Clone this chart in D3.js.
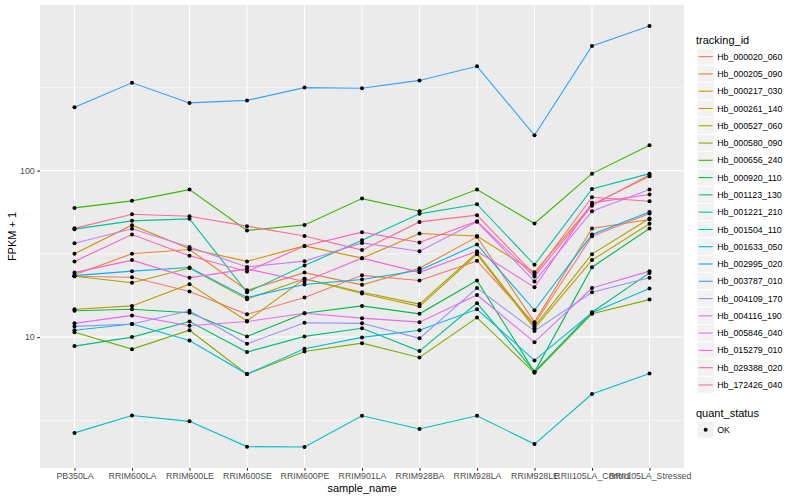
<!DOCTYPE html>
<html>
<head>
<meta charset="utf-8">
<script src="https://cdn.jsdelivr.net/npm/d3@7"></script>
<style>
  body { margin: 0; background: #fff; }
  text { font-family: "Liberation Sans", Arial, sans-serif; }
</style>
</head>
<body>
<div id="chart"></div>
<script>
// sample names on the x axis
const samples = ["PB350LA", "RRIM600LA", "RRIM600LE", "RRIM600SE", "RRIM600PE", "RRIM901LA",
                 "RRIM928BA", "RRIM928LA", "RRIM928LE", "RRII105LA_Control", "RRII105LA_Stressed"];

const trackingIds = ["Hb_000020_060", "Hb_000205_090", "Hb_000217_030", "Hb_000261_140", "Hb_000527_060",
                     "Hb_000580_090", "Hb_000656_240", "Hb_000920_110", "Hb_001123_130", "Hb_001221_210",
                     "Hb_001504_110", "Hb_001633_050", "Hb_002995_020", "Hb_003787_010", "Hb_004109_170",
                     "Hb_004116_190", "Hb_005846_040", "Hb_015279_010", "Hb_029388_020", "Hb_172426_040"];

// FPKM + 1, one array per tracking id, in sample order
const hb_000020_060 = [23.2, 22.9, 18.8, 13.7, 17.3, 23.5, 21.9, 28.7, 12.0, 40.4, 55.2];
const hb_000205_090 = [23.7, 31.7, 33.6, 19.1, 24.4, 20.6, 25.9, 40.0, 12.3, 44.9, 50.8];
const hb_000217_030 = [31.7, 47.0, 33.9, 28.5, 35.3, 29.8, 41.9, 40.5, 24.5, 62.5, 92.5];
const hb_000261_140 = [14.7, 15.4, 20.8, 12.5, 22.4, 18.3, 15.3, 31.4, 11.3, 29.0, 47.9];
const hb_000527_060 = [23.2, 21.2, 26.0, 16.9, 22.4, 18.6, 15.8, 32.1, 11.6, 31.5, 51.5];
const hb_000580_090 = [10.7, 8.47, 11.0, 6.0, 8.2, 9.2, 7.55, 13.1, 6.1, 13.8, 16.8];
const hb_000656_240 = [59.7, 65.8, 76.9, 43.7, 47.2, 67.9, 57.0, 76.9, 48.1, 95.9, 142];
const hb_000920_110 = [14.4, 14.7, 14.0, 10.1, 13.9, 15.4, 13.8, 21.9, 6.17, 26.3, 44.9];
const hb_001123_130 = [8.83, 10.0, 12.4, 8.13, 10.1, 11.3, 8.24, 16.0, 6.2, 14.1, 24.3];
const hb_001221_210 = [44.5, 49.9, 51.3, 18.6, 26.9, 38.2, 55.0, 62.8, 27.2, 77.6, 95.9];
const hb_001504_110 = [2.66, 3.38, 3.12, 2.2, 2.19, 3.37, 2.81, 3.37, 2.28, 4.55, 6.05];
const hb_001633_050 = [11.0, 12.0, 9.55, 6.0, 8.51, 9.96, 11.0, 14.7, 7.25, 14.0, 19.6];
const hb_002995_020 = [23.4, 24.9, 26.2, 17.3, 20.7, 22.2, 25.2, 36.0, 14.5, 41.3, 56.5];
const hb_003787_010 = [240, 337, 255, 264, 315, 312, 348, 423, 163, 560, 738];
const hb_004109_170 = [11.6, 12.0, 14.4, 9.12, 12.2, 12.1, 9.83, 19.7, 10.9, 18.6, 22.7];
const hb_004116_190 = [36.6, 44.7, 34.8, 26.4, 28.6, 36.8, 32.8, 49.3, 21.6, 57.0, 76.9];
const hb_005846_040 = [12.1, 13.5, 11.7, 12.4, 13.9, 13.0, 12.3, 17.9, 9.33, 19.7, 24.9];
const hb_015279_010 = [24.4, 29.0, 22.7, 25.7, 21.6, 29.8, 24.5, 32.8, 19.9, 64.0, 71.8];
const hb_029388_020 = [28.5, 41.3, 30.8, 24.8, 35.3, 42.7, 37.0, 49.7, 23.1, 61.6, 94.3];
const hb_172426_040 = [45.0, 54.7, 53.2, 46.4, 40.5, 33.3, 49.2, 54.0, 23.7, 69.2, 65.5];

const quantStatus = ["OK"];

const seriesValues = [hb_000020_060, hb_000205_090, hb_000217_030, hb_000261_140, hb_000527_060,
                      hb_000580_090, hb_000656_240, hb_000920_110, hb_001123_130, hb_001221_210,
                      hb_001504_110, hb_001633_050, hb_002995_020, hb_003787_010, hb_004109_170,
                      hb_004116_190, hb_005846_040, hb_015279_010, hb_029388_020, hb_172426_040];

const series = trackingIds.map((id, i) => ({
    id: id,
    values: samples.map((s, j) => ({sample: s, value: seriesValues[i][j]}))
}));

const width = 800, height = 500;
const panel = {left: 40, right: 684, top: 5, bottom: 468};

const svg = d3.select("#chart").append("svg")
    .attr("width", width).attr("height", height);

// ggplot hue palette for 20 levels
const color = d3.scaleOrdinal()
    .domain(trackingIds)
    .range(["#F8766D", "#EA8331", "#D89000", "#C09B00", "#A3A500", "#7CAE00", "#39B600", "#00BB4E",
            "#00BF7D", "#00C1A3", "#00BFC4", "#00BAE0", "#00B0F6", "#35A2FF", "#9590FF", "#C77CFF",
            "#E76BF3", "#FA62DB", "#FF62BC", "#FF6C91"]);

const x = d3.scalePoint()
    .domain(samples)
    .range([panel.left, panel.right])
    .padding(0.6);

// log10 scale with 5% expansion like ggplot
const allVals = seriesValues.flat();
const lo = Math.log10(d3.min(allVals)), hi = Math.log10(d3.max(allVals));
const pad = (hi - lo) * 0.05;
const y = d3.scaleLog()
    .domain([Math.pow(10, lo - pad), Math.pow(10, hi + pad)])
    .range([panel.bottom, panel.top]);

// panel background
svg.append("rect")
    .attr("x", panel.left).attr("y", panel.top)
    .attr("width", panel.right - panel.left).attr("height", panel.bottom - panel.top)
    .style("fill", "#EBEBEB");

const yMajor = [1, 10, 100, 1000].filter(v => v >= y.domain()[0] && v <= y.domain()[1]);
const yMinor = [Math.pow(10, 0.5), Math.pow(10, 1.5), Math.pow(10, 2.5)]
    .filter(v => v >= y.domain()[0] && v <= y.domain()[1]);

const grid = svg.append("g");
grid.selectAll(".minor").data(yMinor)
    .enter().append("line")
    .attr("x1", panel.left).attr("x2", panel.right)
    .attr("y1", d => y(d)).attr("y2", d => y(d))
    .style("stroke", "#fff").style("stroke-width", 0.55);
grid.selectAll(".major").data(yMajor)
    .enter().append("line")
    .attr("x1", panel.left).attr("x2", panel.right)
    .attr("y1", d => y(d)).attr("y2", d => y(d))
    .style("stroke", "#fff").style("stroke-width", 1.1);
grid.selectAll(".vmajor").data(samples)
    .enter().append("line")
    .attr("x1", d => x(d)).attr("x2", d => x(d))
    .attr("y1", panel.top).attr("y2", panel.bottom)
    .style("stroke", "#fff").style("stroke-width", 1.1);

// lines
const line = d3.line()
    .x(d => x(d.sample))
    .y(d => y(d.value));

svg.append("g").selectAll("path")
    .data(series)
    .enter().append("path")
    .attr("d", d => line(d.values))
    .style("fill", "none")
    .style("stroke", d => color(d.id))
    .style("stroke-width", 1.1);

// points
svg.append("g").selectAll("circle")
    .data(series.flatMap(d => d.values))
    .enter().append("circle")
    .attr("cx", d => x(d.sample))
    .attr("cy", d => y(d.value))
    .attr("r", 2)
    .style("fill", "#000");

// axes
const xAxis = svg.append("g")
    .attr("transform", "translate(0," + panel.bottom + ")")
    .call(d3.axisBottom(x).tickSize(2.75).tickPadding(2.5));
const yAxis = svg.append("g")
    .attr("transform", "translate(" + panel.left + ",0)")
    .call(d3.axisLeft(y).tickValues(yMajor).tickFormat(d3.format("d")).tickSize(2.75).tickPadding(2.5));

[xAxis, yAxis].forEach(a => {
    a.select(".domain").remove();
    a.selectAll(".tick line").style("stroke", "#333333").style("stroke-width", 1.1);
    a.selectAll(".tick text").style("fill", "#4D4D4D").style("font-size", "8.8px")
        .style("font-family", "Liberation Sans, Arial, sans-serif");
});

svg.append("text")
    .attr("x", (panel.left + panel.right) / 2).attr("y", 492)
    .attr("text-anchor", "middle")
    .style("font-size", "11px").style("fill", "#000")
    .text("sample_name");

svg.append("text")
    .attr("transform", "translate(16," + ((panel.top + panel.bottom) / 2) + ") rotate(-90)")
    .attr("text-anchor", "middle")
    .style("font-size", "11px").style("fill", "#000")
    .text("FPKM + 1");

// legend: tracking_id
const legend = svg.append("g").attr("transform", "translate(697,0)");
const keyH = 17.28, keyTop = 48;

legend.append("text")
    .attr("x", -1).attr("y", 44)
    .style("font-size", "11px")
    .text("tracking_id");

const rows = legend.selectAll(".row")
    .data(trackingIds)
    .enter().append("g")
    .attr("transform", (d, i) => "translate(0," + (keyTop + i * keyH) + ")");

rows.append("rect")
    .attr("width", keyH).attr("height", keyH)
    .style("fill", "#F2F2F2").style("stroke", "#fff").style("stroke-width", 1);
rows.append("line")
    .attr("x1", 1.7).attr("x2", keyH - 1.7)
    .attr("y1", keyH / 2).attr("y2", keyH / 2)
    .style("stroke", d => color(d)).style("stroke-width", 1.1);
rows.append("text")
    .attr("x", keyH + 3).attr("y", keyH / 2 + 3.1)
    .style("font-size", "8.8px")
    .text(d => d);

// legend: quant_status
const legend2 = svg.append("g").attr("transform", "translate(697,0)");
legend2.append("text")
    .attr("x", -1).attr("y", 417)
    .style("font-size", "11px")
    .text("quant_status");

const rows2 = legend2.selectAll(".row")
    .data(quantStatus)
    .enter().append("g")
    .attr("transform", (d, i) => "translate(0," + (421 + i * keyH) + ")");
rows2.append("rect")
    .attr("width", keyH).attr("height", keyH)
    .style("fill", "#F2F2F2").style("stroke", "#fff").style("stroke-width", 1);
rows2.append("circle")
    .attr("cx", keyH / 2).attr("cy", keyH / 2).attr("r", 2)
    .style("fill", "#000");
rows2.append("text")
    .attr("x", keyH + 3).attr("y", keyH / 2 + 3.1)
    .style("font-size", "8.8px")
    .text(d => d);
</script>
</body>
</html>
